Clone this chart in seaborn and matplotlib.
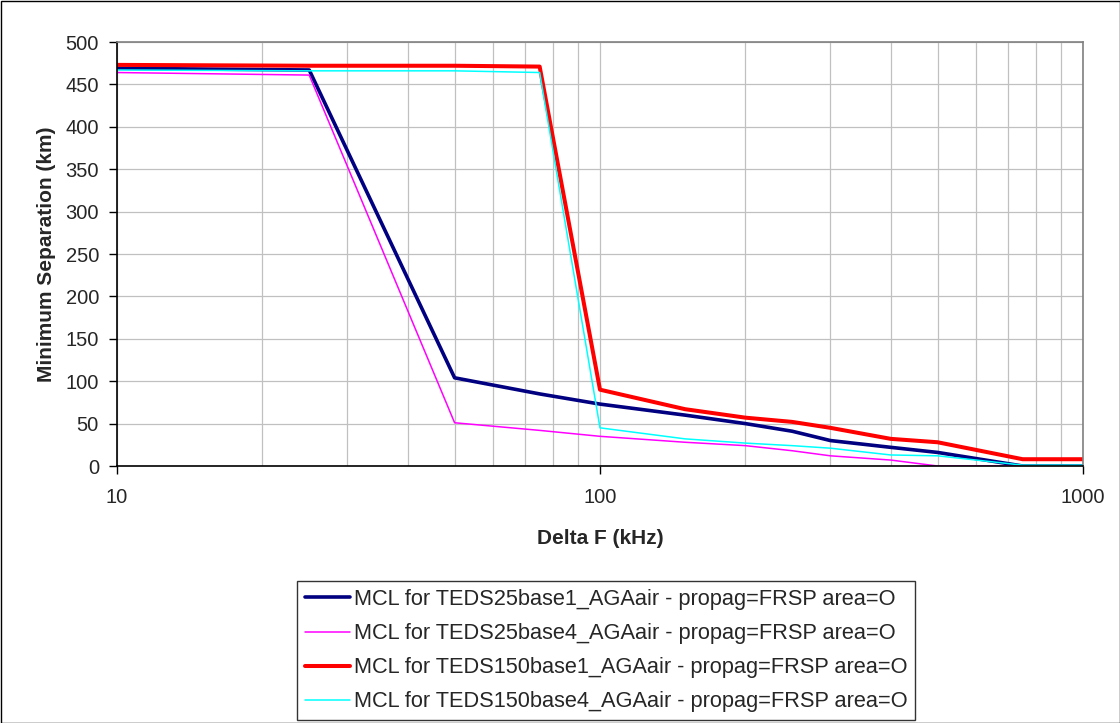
import matplotlib
matplotlib.use("Agg")
import matplotlib.pyplot as plt
from matplotlib.patches import Rectangle
import pandas as pd
import seaborn as sns

# frequency offsets (kHz)
delta_f = [10, 25, 50, 75, 100, 150, 200, 250, 300, 400, 500, 750, 1000]

# minimum separation (km) per case
teds25_base1 = [469, 467, 104, 85, 73, 60, 50, 41, 30, 22, 16, 0, 0]
teds25_base4 = [464, 461, 51, 42, 35, 28, 24, 18, 12, 7, 0, 0, 0]
teds150_base1 = [473, 472, 472, 471, 90, 67, 57, 52, 45, 32, 28, 8, 8]
teds150_base4 = [467, 466, 466, 464, 45, 32, 27, 24, 21, 13, 12, 1, 1]

labels = [
    "MCL for TEDS25base1_AGAair - propag=FRSP area=O",
    "MCL for TEDS25base4_AGAair - propag=FRSP area=O",
    "MCL for TEDS150base1_AGAair - propag=FRSP area=O",
    "MCL for TEDS150base4_AGAair - propag=FRSP area=O",
]
series = [teds25_base1, teds25_base4, teds150_base1, teds150_base4]
colors = ["#000080", "#FF00FF", "#FF0000", "#00FFFF"]
widths = [2.6, 1.1, 2.9, 1.1]

sns.set_style("white")
plt.rcParams["font.family"] = ["Liberation Sans", "DejaVu Sans"]

fig = plt.figure(figsize=(11.2, 7.23), dpi=100)
ax = fig.add_axes([117 / 1120, 1 - 466 / 723, (1083 - 117) / 1120, (466 - 42) / 723])

for lab, vals, col, lw in zip(labels, series, colors, widths):
    df = pd.DataFrame({"delta_f": delta_f, "sep": vals})
    sns.lineplot(data=df, x="delta_f", y="sep", ax=ax, color=col, linewidth=lw, label=lab)

ax.set_xscale("log")
ax.set_xlim(10, 1000)
ax.set_ylim(0, 500)
ax.set_yticks(range(0, 501, 50))
ax.set_xticks([10, 100, 1000])
ax.set_xticklabels(["10", "100", "1000"])
ax.grid(True, which="both", axis="x", color="#c0c0c0", linewidth=0.9)
ax.grid(True, which="major", axis="y", color="#c0c0c0", linewidth=0.9)
ax.set_axisbelow(True)

ax.tick_params(axis="both", which="major", direction="out", length=6, width=1,
               labelsize=14.5, color="black", left=True, bottom=True)
ax.tick_params(axis="y", pad=7)
ax.tick_params(axis="x", pad=10)
ax.tick_params(axis="x", which="minor", length=0)
for s in ["left", "bottom"]:
    ax.spines[s].set_color("black")
    ax.spines[s].set_linewidth(1.2)
for s in ["top", "right"]:
    ax.spines[s].set_color("#808080")
    ax.spines[s].set_linewidth(1.2)

ax.set_xlabel("Delta F (kHz)", fontsize=15, fontweight="bold", labelpad=16)
ax.set_ylabel("Minimum Separation (km)", fontsize=15, fontweight="bold", labelpad=7)

ax.get_legend().remove()
handles, labs = ax.get_legend_handles_labels()
leg = fig.legend(handles, labs, loc="lower center", bbox_to_anchor=(606 / 1120, 3 / 723),
                 fontsize=15.7, frameon=True, fancybox=False, edgecolor="black",
                 handlelength=2.1, handletextpad=0.15, labelspacing=0.6,
                 borderpad=0.35, borderaxespad=0)
leg.get_frame().set_linewidth(1.0)

fig.patches.append(Rectangle((0.5 / 1120, 0), 1 - 1 / 1120, 1 - 0.5 / 723,
                             transform=fig.transFigure, fill=False,
                             edgecolor="black", linewidth=1.0))

fig.savefig("out.png", dpi=100)
